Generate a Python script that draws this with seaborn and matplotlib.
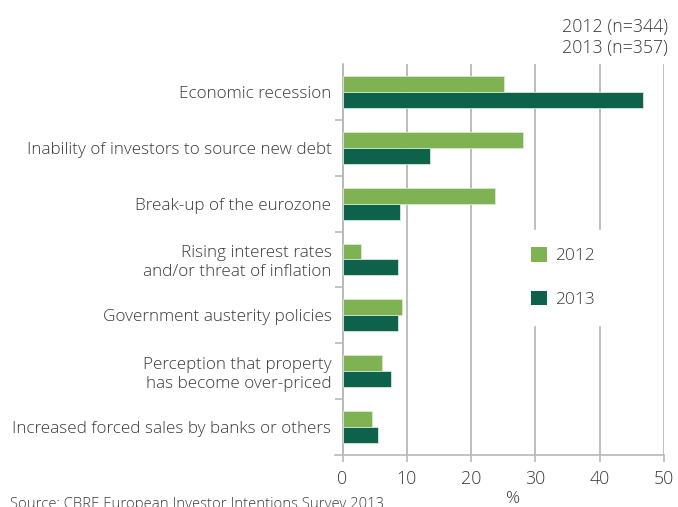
import matplotlib
matplotlib.use("Agg")
import matplotlib.pyplot as plt
from matplotlib.ticker import FixedLocator
import seaborn as sns
import pandas as pd

# Survey responses: share of investors naming each risk (%)
categories = [
    "Economic recession",
    "Inability of investors to source new debt",
    "Break-up of the eurozone",
    "Rising interest rates\nand/or threat of inflation",
    "Government austerity policies",
    "Perception that property\nhas become over-priced",
    "Increased forced sales by banks or others",
]
values_2012 = [25.1, 28.1, 23.7, 2.9, 9.3, 6.1, 4.6]
values_2013 = [46.8, 13.6, 8.9, 8.6, 8.6, 7.6, 5.5]
years = ["2012", "2013"]
x_ticks = [0, 10, 20, 30, 40, 50]

df = pd.DataFrame({
    "risk": categories * 2,
    "year": [years[0]] * len(categories) + [years[1]] * len(categories),
    "pct": values_2012 + values_2013,
})

sns.set_theme(style="white")
plt.rcParams["font.family"] = ["Open Sans", "DejaVu Sans"]
plt.rcParams["font.weight"] = "light"

text_col = "#3a3a3a"
grid_col = "#b9b9bd"
palette = {"2012": "#7dc242", "2013": "#006f51"}

fig = plt.figure(figsize=(6.78, 5.07), dpi=100)
ax = fig.add_axes([0.4938, 0.1026, 0.9794 - 0.4938, 0.8738 - 0.1026])

sns.barplot(
    data=df, y="risk", x="pct", hue="year", orient="h",
    palette=palette, width=0.57, gap=0, ax=ax,
    edgecolor="#d4ecd0", linewidth=0.6, zorder=3,
)

ax.set_xlim(-1.2, 50)
ax.set_xticks(x_ticks)
ax.set_xticklabels([str(t) for t in x_ticks])
ax.set_xlabel("")
ax.set_ylabel("")

ax.grid(axis="x", color=grid_col, linewidth=1.3, zorder=0)
ax.grid(axis="y", visible=False)
ax.set_axisbelow(True)

for s in ["top", "right"]:
    ax.spines[s].set_visible(False)
ax.spines["left"].set_position(("data", 0))
ax.spines["left"].set_color(grid_col)
ax.spines["left"].set_linewidth(1.2)
ax.spines["bottom"].set_color(grid_col)
ax.spines["bottom"].set_linewidth(1.2)

ax.tick_params(axis="y", which="major", length=0, pad=8,
               labelsize=12.3, labelcolor=text_col)
ax.yaxis.set_minor_locator(FixedLocator([i + 0.5 for i in range(len(categories) - 1)]))
ax.tick_params(axis="y", which="minor", length=6, width=1.2,
               color=grid_col, direction="out", left=True)
ax.tick_params(axis="x", length=5, width=1.2, color=grid_col,
               direction="out", pad=6, labelsize=12.8, labelcolor=text_col,
               bottom=True)
for lbl in ax.get_yticklabels():
    lbl.set_horizontalalignment("right")
    lbl.set_multialignment("right")

leg = ax.legend(
    loc="upper left", bbox_to_anchor=(505 / 678, 1 - 221 / 507),
    bbox_transform=fig.transFigure, frameon=True, fancybox=False,
    facecolor="white", edgecolor="white", framealpha=1,
    fontsize=12.5, handlelength=0.92, handleheight=0.92,
    handletextpad=0.45, labelspacing=1.52, borderpad=1.0,
)
for t in leg.get_texts():
    t.set_color(text_col)
for h in leg.legend_handles:
    h.set_edgecolor("none")
leg.set_zorder(5)

fig.text(668 / 678, 1 - 27 / 507, "2012 (n=344)", ha="right", va="center",
         fontsize=12.8, color=text_col)
fig.text(668 / 678, 1 - 48 / 507, "2013 (n=357)", ha="right", va="center",
         fontsize=12.8, color=text_col)
fig.text(513 / 678, 1 - 499 / 507, "%", ha="center", va="center",
         fontsize=12.5, color=text_col)
fig.text(10 / 678, -1 / 507, "Source: CBRE European Investor Intentions Survey 2013",
         ha="left", va="baseline", fontsize=10.7, color=text_col)

fig.savefig("out.png", dpi=100)
